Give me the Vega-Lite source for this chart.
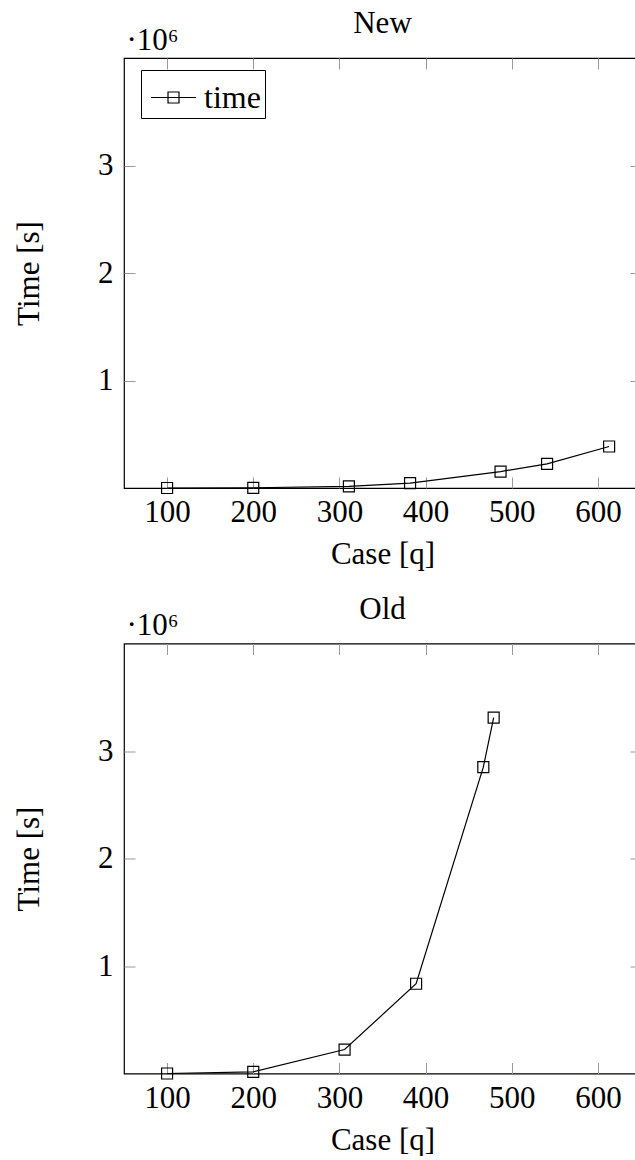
{
  "$schema": "https://vega.github.io/schema/vega-lite/v6.json",
  "padding": {"left": 12, "top": 7, "right": -8, "bottom": 0},
  "spacing": 21.5,
  "datasets": {
    "new": [
      {"case": 100, "time": 0, "series": "time"},
      {"case": 200, "time": 2000, "series": "time"},
      {"case": 311, "time": 15000, "series": "time"},
      {"case": 382, "time": 45000, "series": "time"},
      {"case": 487, "time": 153000, "series": "time"},
      {"case": 541, "time": 225000, "series": "time"},
      {"case": 613, "time": 386000, "series": "time"}
    ],
    "old": [
      {"case": 100, "time": 0, "series": "time"},
      {"case": 200, "time": 15000, "series": "time"},
      {"case": 306, "time": 223000, "series": "time"},
      {"case": 389, "time": 835000, "series": "time"},
      {"case": 467, "time": 2850000, "series": "time"},
      {"case": 479, "time": 3310000, "series": "time"}
    ]
  },
  "vconcat": [
    {
      "title": {"text": "New", "offset": -16, "font": "Liberation Serif"},
      "width": 517,
      "height": 430,
      "data": {"name": "new"},
      "layer": [
        {
          "mark": {"type": "line", "color": "black", "strokeWidth": 1.2},
          "encoding": {
            "x": {"field": "case", "type": "quantitative", "scale": {"domain": [50, 650], "nice": false, "zero": false},
              "axis": {"orient": "bottom", "values": [100, 200, 300, 400, 500, 600], "title": "Case [q]", "labelPadding": 20.5, "titlePadding": 12, "labelFont": "Liberation Serif", "titleFont": "Liberation Serif"}},
            "y": {"field": "time", "type": "quantitative", "scale": {"domain": [0, 4000000], "nice": false},
              "axis": {"orient": "left", "values": [1000000, 2000000, 3000000], "labelExpr": "datum.value / 1000000", "title": "Time [s]", "labelPadding": 22, "titlePadding": 52, "labelFont": "Liberation Serif", "titleFont": "Liberation Serif"}},
            "color": {"field": "series", "type": "nominal", "scale": {"range": ["black"]},
              "legend": {"title": null, "orient": "none", "legendX": 17, "legendY": 12, "labelExpr": "datum.label + '\u2002'"}}
          }
        },
        {
          "mark": {"type": "point", "shape": "square", "filled": false, "size": 121, "stroke": "black", "strokeWidth": 1.2, "opacity": 1},
          "encoding": {
            "x": {"field": "case", "type": "quantitative",
              "axis": {"orient": "top", "values": [100, 200, 300, 400, 500, 600], "labels": false, "title": "·10⁶", "titleX": 2, "titleY": -9, "titleAlign": "left", "titleBaseline": "alphabetic", "titleAngle": 0, "titleFont": "Liberation Serif"}},
            "y": {"field": "time", "type": "quantitative",
              "axis": {"orient": "right", "values": [1000000, 2000000, 3000000], "labels": false, "title": null}}
          }
        }
      ],
      "resolve": {"axis": {"x": "independent", "y": "independent"}}
    },
    {
      "title": {"text": "Old", "offset": -16, "font": "Liberation Serif"},
      "width": 517,
      "height": 430,
      "data": {"name": "old"},
      "layer": [
        {
          "mark": {"type": "line", "color": "black", "strokeWidth": 1.2},
          "encoding": {
            "x": {"field": "case", "type": "quantitative", "scale": {"domain": [50, 650], "nice": false, "zero": false},
              "axis": {"orient": "bottom", "values": [100, 200, 300, 400, 500, 600], "title": "Case [q]", "labelPadding": 20.5, "titlePadding": 12, "labelFont": "Liberation Serif", "titleFont": "Liberation Serif"}},
            "y": {"field": "time", "type": "quantitative", "scale": {"domain": [0, 4000000], "nice": false},
              "axis": {"orient": "left", "values": [1000000, 2000000, 3000000], "labelExpr": "datum.value / 1000000", "title": "Time [s]", "labelPadding": 22, "titlePadding": 52, "labelFont": "Liberation Serif", "titleFont": "Liberation Serif"}},
            "color": {"field": "series", "type": "nominal", "scale": {"range": ["black"]},
              "legend": {"title": null, "orient": "none", "legendX": 17, "legendY": 12, "labelExpr": "datum.label + '\u2002'"}}
          }
        },
        {
          "mark": {"type": "point", "shape": "square", "filled": false, "size": 121, "stroke": "black", "strokeWidth": 1.2, "opacity": 1},
          "encoding": {
            "x": {"field": "case", "type": "quantitative",
              "axis": {"orient": "top", "values": [100, 200, 300, 400, 500, 600], "labels": false, "title": "·10⁶", "titleX": 2, "titleY": -9, "titleAlign": "left", "titleBaseline": "alphabetic", "titleAngle": 0, "titleFont": "Liberation Serif"}},
            "y": {"field": "time", "type": "quantitative",
              "axis": {"orient": "right", "values": [1000000, 2000000, 3000000], "labels": false, "title": null}}
          }
        }
      ],
      "resolve": {"axis": {"x": "independent", "y": "independent"}}
    }
  ],
  "config": {
    "font": "Liberation Serif",
    "view": {"stroke": "black", "strokeWidth": 1.2},
    "axis": {
      "grid": false, "domain": false,
      "tickColor": "#999999", "tickSize": -11, "tickWidth": 1,
      "labelFont": "Liberation Serif", "labelFontSize": 31, "labelColor": "black",
      "titleFont": "Liberation Serif", "titleFontSize": 31, "titleFontWeight": "normal", "titleColor": "black"
    },
    "title": {"font": "Liberation Serif", "fontSize": 31, "fontWeight": "normal", "color": "black"},
    "legend": {
      "strokeColor": "black", "fillColor": "white", "padding": 4, "cornerRadius": 0,
      "symbolType": "M-1,0H1M-0.244,-0.244H0.244V0.244H-0.244Z", "symbolOffset": 5,
      "symbolSize": 2025, "symbolStrokeWidth": 1.2, "symbolStrokeColor": "black", "symbolFillColor": "transparent",
      "labelFont": "Liberation Serif", "labelFontSize": 32, "labelColor": "black", "labelOffset": 7
    }
  }
}
